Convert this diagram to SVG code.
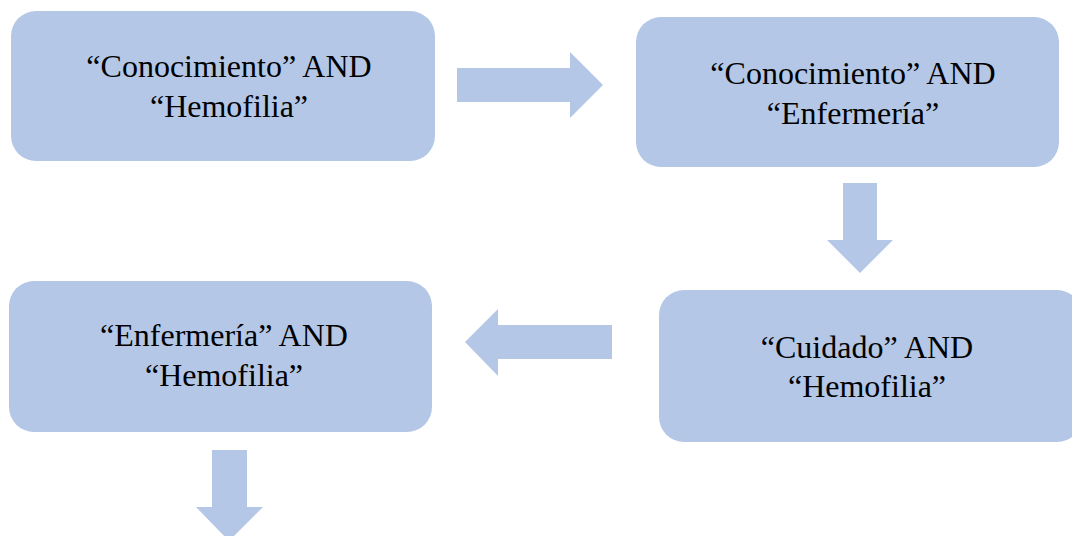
<svg xmlns="http://www.w3.org/2000/svg" width="1072" height="536" viewBox="0 0 1072 536">
<style>
.box{fill:#B4C7E7;}
.arr{fill:#B4C7E7;}
text{font-family:"Liberation Serif","Times New Roman",serif;font-size:32px;fill:#000;text-anchor:middle;}
</style>
<rect width="1072" height="536" fill="#fff"/>
<g id="connectors">
<polygon class="arr" points="457,68 570,68 570,52 603,85 570,118 570,102 457,102"/>
<polygon class="arr" points="843,183 877,183 877,240 893,240 860,273 827,240 843,240"/>
<polygon class="arr" points="612,325 498,325 498,309 465,342 498,376 498,359 612,359"/>
<polygon class="arr" points="212,450 247,450 247,507 263,507 229,541 196,507 212,507"/>
</g>
<g id="n1">
<rect class="box" x="11" y="11" width="424" height="150" rx="25"/>
<text x="229" y="77">“Conocimiento” AND</text>
<text x="229" y="117">“Hemofilia”</text>
</g>
<g id="n2">
<rect class="box" x="636" y="17" width="423" height="150" rx="25"/>
<text x="853" y="84">“Conocimiento” AND</text>
<text x="853" y="124">“Enfermería”</text>
</g>
<g id="n3">
<rect class="box" x="9" y="281" width="423" height="151" rx="25"/>
<text x="224" y="346">“Enfermería” AND</text>
<text x="224" y="386">“Hemofilia”</text>
</g>
<g id="n4">
<rect class="box" x="659" y="290" width="423" height="152" rx="25"/>
<text x="867" y="358">“Cuidado” AND</text>
<text x="867" y="397">“Hemofilia”</text>
</g>
</svg>
